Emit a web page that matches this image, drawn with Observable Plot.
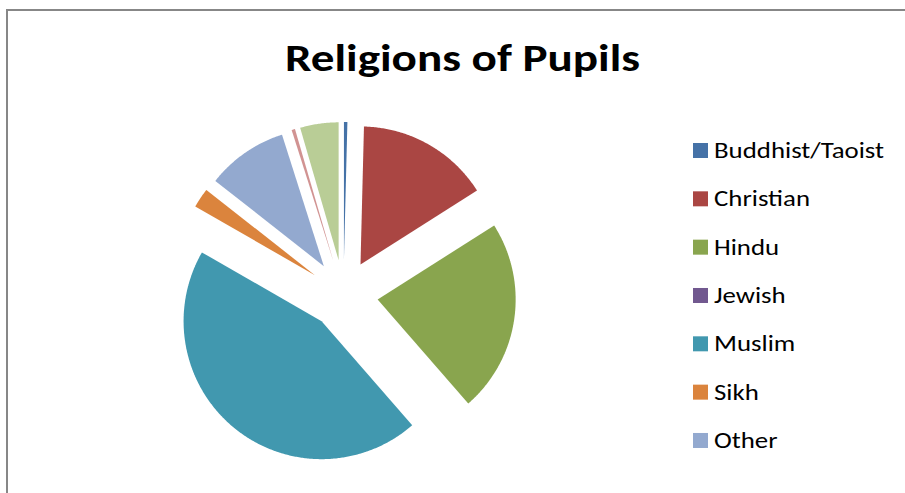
<!DOCTYPE html>
<html>
<head>
<meta charset="utf-8">
<script src="https://cdn.jsdelivr.net/npm/d3@7"></script>
<script src="https://cdn.jsdelivr.net/npm/@observablehq/plot@0.6"></script>
<style>
  html, body { margin: 0; padding: 0; background: #fff; width: 905px; height: 493px; overflow: hidden; }
  #chart { position: absolute; left: 0; top: 0; }
  #frame { position: absolute; left: 6px; top: 9px; width: 1200px; height: 800px;
           border-left: 2px solid #878787; border-top: 2px solid #878787; pointer-events: none; }
  #overlay { position: absolute; left: 0; top: 0; }
</style>
</head>
<body>
<div id="chart"></div>
<div id="frame"></div>
<script>
// ---- data ----
const title = "Religions of Pupils";
// slice order clockwise from 12 o'clock; the last two slices are not shown in the legend
const categories = ["Buddhist/Taoist", "Christian", "Hindu", "Jewish", "Muslim", "Sikh", "Other", "Slice 8", "Slice 9"];
const values     = [0.4, 15.6, 22.6, 0, 44.7, 2.3, 9.5, 0.4, 4.5];
const colors     = ["#4572A7", "#AA4643", "#89A54E", "#71588F", "#4198AF", "#DB843D", "#93A9CF", "#D19392", "#B9CD96"];
const legendCount = 7;

// ---- layout ----
const W = 905, H = 493;
const CX = 343, CY = 294;   // pie centre in px
const R = 138;              // radius in px
const EXPLODE = 0.25;       // explosion as a fraction of the radius

const rows = categories.map((name, i) => ({name, value: values[i]}));
const arcs = d3.pie().sort(null).value(d => d.value)(rows);

const pts = [];
for (const a of arcs) {
  const span = a.endAngle - a.startAngle;
  if (span <= 0) continue;
  const name = a.data.name;
  const mid = (a.startAngle + a.endAngle) / 2;
  const ox = EXPLODE * Math.sin(mid), oy = EXPLODE * Math.cos(mid);
  pts.push({name, x: ox, y: oy});
  const n = Math.max(2, Math.ceil(span / (Math.PI / 360)));
  for (let k = 0; k <= n; k++) {
    const t = a.startAngle + span * k / n;
    pts.push({name, x: ox + Math.sin(t), y: oy + Math.cos(t)});
  }
}

const plot = Plot.plot({
  width: W, height: H, margin: 0,
  style: {background: "transparent"},
  x: {domain: [-CX / R, (W - CX) / R], axis: null},
  y: {domain: [-(H - CY) / R, CY / R], axis: null},
  color: {domain: categories, range: colors},
  marks: [
    Plot.line(pts, {x: "x", y: "y", z: "name", fill: "name", stroke: "none", curve: "linear-closed"})
  ]
});
document.getElementById("chart").appendChild(plot);

// ---- title and legend overlay ----
const FONT = "Carlito, Calibri, Lato, 'Open Sans', sans-serif";
const svg = d3.select("body").append("svg").attr("id", "overlay")
  .attr("width", W).attr("height", H);

svg.append("text")
  .attr("x", 462.5).attr("y", 71)
  .attr("text-anchor", "middle")
  .attr("font-family", FONT).attr("font-weight", "bold").attr("font-size", 39)
  .attr("fill", "#000")
  .attr("textLength", 355).attr("lengthAdjust", "spacingAndGlyphs")
  .text(title);

const LEG_X = 693, LEG_Y0 = 158, LEG_DY = 48.33;
const leg = svg.append("g");
const texts = [];
for (let i = 0; i < legendCount; i++) {
  const y = LEG_Y0 + i * LEG_DY;
  leg.append("rect").attr("x", LEG_X).attr("y", y - 15).attr("width", 15).attr("height", 15)
    .attr("fill", colors[i]);
  texts.push(leg.append("text").attr("x", LEG_X + 21).attr("y", y)
    .attr("font-family", FONT).attr("font-size", 22).attr("fill", "#000")
    .text(categories[i]));
}
const w0 = texts[0].node().getComputedTextLength();
const factor = 170 / w0;
for (const t of texts) {
  const w = t.node().getComputedTextLength();
  t.attr("textLength", w * factor).attr("lengthAdjust", "spacingAndGlyphs");
}
</script>
</body>
</html>
